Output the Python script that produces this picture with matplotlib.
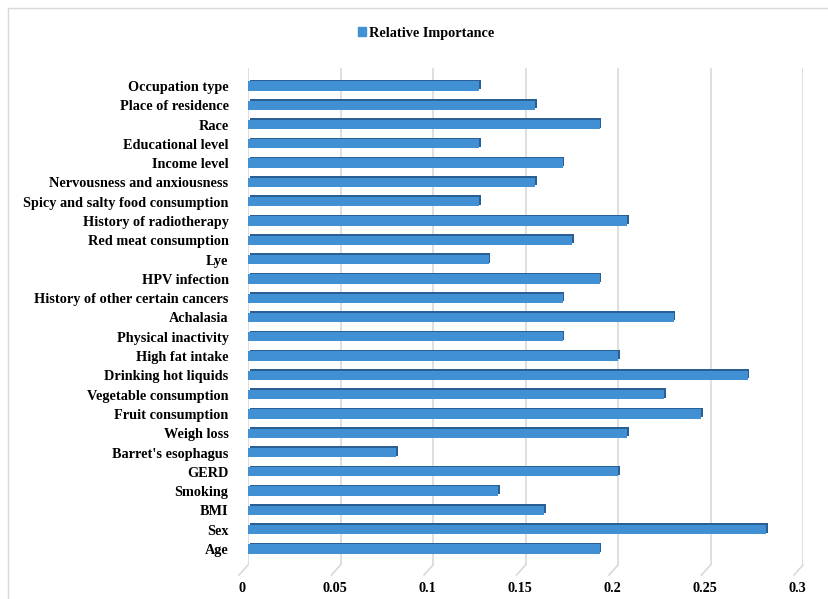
import numpy as np
import matplotlib
matplotlib.use("Agg")
import matplotlib.pyplot as plt
import matplotlib.transforms as mtransforms
from matplotlib.patches import Patch, Rectangle

# bottom to top, as drawn
factors = [
    "Age", "Sex", "BMI", "Smoking", "GERD", "Barret's esophagus",
    "Weigh loss", "Fruit consumption", "Vegetable consumption",
    "Drinking hot liquids", "High fat intake", "Physical inactivity",
    "Achalasia", "History of other certain cancers", "HPV infection", "Lye",
    "Red meat consumption", "History of radiotherapy",
    "Spicy and salty food consumption", "Nervousness and anxiousness",
    "Income level", "Educational level", "Race", "Place of residence",
    "Occupation type",
]
importance = [
    0.19, 0.28, 0.16, 0.135, 0.20, 0.08,
    0.205, 0.245, 0.225,
    0.27, 0.20, 0.17,
    0.23, 0.17, 0.19, 0.13,
    0.175, 0.205,
    0.125, 0.155,
    0.17, 0.125, 0.19, 0.155,
    0.125,
]
x_ticks = [0, 0.05, 0.1, 0.15, 0.2, 0.25, 0.3]
x_labels = ["0", "0.05", "0.1", "0.15", "0.2", "0.25", "0.3"]

plt.rcParams["font.family"] = ["Liberation Serif", "DejaVu Serif"]
plt.rcParams["font.weight"] = "bold"

BAR = "#4190D3"
SIDE = "#2A5F95"
GRID = "#D9D9D9"
W, H = 829, 599

fig = plt.figure(figsize=(W / 100, H / 100), dpi=100, facecolor="white")
ax = fig.add_axes([248 / W, 34 / H, 555 / W, 497 / H])

pos = np.arange(len(factors))

# darker copy nudged up/right gives the 3-D edge look
shift = mtransforms.ScaledTranslation(1.8 / 100, 1.6 / 100, fig.dpi_scale_trans)
ax.barh(pos, importance, height=0.48, color=SIDE, zorder=2,
        transform=ax.transData + shift)
ax.barh(pos, importance, height=0.48, color=BAR, zorder=3)

ax.set_xlim(0, 0.3)
ax.set_ylim(-0.83, len(factors) - 0.07)

ax.set_yticks(pos)
ax.set_yticklabels(factors, fontsize=10.3, fontweight="bold")
ax.set_xticks(x_ticks)
ax.set_xticklabels(x_labels, fontsize=10.3, fontweight="bold")
ax.tick_params(axis="y", length=0, pad=14)
ax.tick_params(axis="x", length=0, pad=12)

# tick labels sit on the floor, a bit left of the back wall
lab_shift = mtransforms.ScaledTranslation(-6 / 100, 0, fig.dpi_scale_trans)
for lab in ax.get_xticklabels():
    lab.set_transform(lab.get_transform() + lab_shift)

for s in ax.spines.values():
    s.set_visible(False)

# back wall gridlines + little floor diagonals
for t in x_ticks:
    ax.axvline(t, color=GRID, lw=1.2, zorder=1)
floor = mtransforms.blended_transform_factory(ax.transData, ax.transAxes)
for t in x_ticks:
    x0, y0 = floor.transform((t, 0))
    fig.add_artist(plt.Line2D([x0 / W, (x0 - 9) / W],
                              [y0 / H, (y0 - 10) / H],
                              transform=fig.transFigure, color=GRID, lw=1.2))

# outer chart border
fig.add_artist(Rectangle((8 / W, -0.01), 1.0, 1 - 8 / H + 0.01,
                         transform=fig.transFigure, fill=False,
                         edgecolor="#D9D9D9", lw=1.0))

fig.legend(handles=[Patch(color=BAR, label="Relative Importance")],
           loc="center", bbox_to_anchor=(426 / W, 1 - 33 / H),
           frameon=False, handlelength=0.55, handleheight=0.55,
           handletextpad=0.25, prop={"size": 10.3, "weight": "bold"})

fig.savefig("out.png", dpi=100)
